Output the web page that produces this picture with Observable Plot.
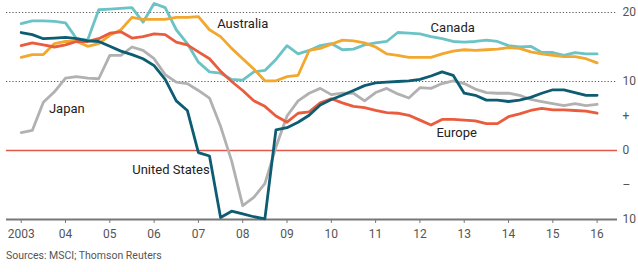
<!DOCTYPE html>
<html>
<head>
<meta charset="utf-8">
<script src="https://cdn.jsdelivr.net/npm/d3@7"></script>
<script src="https://cdn.jsdelivr.net/npm/@observablehq/plot@0.6"></script>
<style>
  html, body { margin: 0; padding: 0; background: #fff; }
  #caption { font-family: Roboto, "Open Sans", sans-serif; font-size: 10.5px; color: #555; margin-left: 6px; height: 22px; line-height: 22px; }
</style>
</head>
<body>
<div id="chart"></div>
<div id="caption">Sources: MSCI; Thomson Reuters</div>
<script>
// Quarterly readings, 2003 Q1 .. 2016 Q1
const startYear = 2003;
const canada = [18.4,18.8,18.8,18.7,18.5,16.2,16.0,20.4,20.5,20.6,20.7,18.6,21.3,20.7,17.5,15.5,12.8,11.4,11.2,10.3,10.2,11.4,11.6,13.2,15.2,14.0,14.5,15.2,15.5,14.6,14.7,15.3,15.6,15.8,17.1,17.0,16.9,16.5,16.2,15.8,15.7,15.8,16.0,15.8,15.2,15.0,15.1,14.2,14.2,13.8,14.2,14.0,14.0];
const australia = [13.5,13.9,13.9,15.5,15.8,15.8,15.1,15.5,16.7,17.5,19.3,19.0,19.0,19.0,19.3,19.3,19.4,17.5,16.5,14.8,13.3,11.8,10.1,10.1,10.7,10.9,14.5,14.8,15.4,16.0,15.9,15.6,15.0,14.0,13.8,13.5,13.5,13.5,14.0,14.4,14.6,14.5,14.6,14.7,14.9,14.8,14.3,14.0,13.8,13.6,13.6,13.3,12.7];
const europe = [15.2,15.6,15.3,15.0,15.3,15.8,15.8,16.2,17.0,17.2,16.3,16.5,16.9,16.8,15.7,15.3,14.3,13.3,11.5,10.0,8.7,7.2,6.4,5.0,4.1,5.4,5.6,6.9,7.5,6.9,6.4,6.2,5.8,5.5,5.4,5.1,4.4,3.7,4.5,4.5,4.4,4.3,3.9,3.9,4.9,5.3,5.8,6.1,5.9,5.9,5.8,5.7,5.4];
const unitedStates = [17.1,16.8,16.2,16.3,16.4,16.2,15.9,15.8,15.1,14.4,13.9,13.3,12.3,10.3,7.2,5.8,-0.3,-0.8,-9.7,-8.8,-9.2,-9.6,-9.9,3.0,3.3,4.1,5.1,6.6,7.4,8.0,8.7,9.4,9.8,9.9,10.0,10.1,10.3,10.8,11.4,10.9,8.3,8.0,7.3,7.3,7.1,7.3,7.7,8.3,8.8,8.8,8.4,8.0,8.0];
const japan = [2.6,2.9,7.0,8.5,10.5,10.7,10.5,10.4,13.8,13.8,15.0,14.5,13.3,11.0,9.9,9.7,8.7,7.6,3.5,-1.5,-8.0,-6.8,-4.8,0.5,5.0,7.2,8.3,9.0,8.1,8.3,8.3,7.2,8.4,9.0,8.2,7.6,9.1,9.0,9.7,10.1,9.7,8.9,8.4,8.3,8.3,8.0,7.4,7.1,6.8,6.5,6.8,6.5,6.7];

const seriesNames = ["Japan", "Canada", "Australia", "Europe", "United States"];
const seriesValues = [japan, canada, australia, europe, unitedStates];
const seriesColors = ["#b1b1b1", "#6cc3c6", "#f2a72e", "#ea5c3e", "#0d5c71"];

const xTicks = [2003,2004,2005,2006,2007,2008,2009,2010,2011,2012,2013,2014,2015,2016];
const xTickLabels = ["2003","04","05","06","07","08","09","10","11","12","13","14","15","16"];
const yTicks = [20, 10, 0, -10];
const yTickLabels = ["20", "10", "0", "10"];

// direct labels (data coordinates, centred)
const labelText = ["Australia", "Canada", "Japan", "Europe", "United States"];
const labelYear = [2008.0, 2012.74, 2004.03, 2012.83, 2006.38];
const labelValue = [18.3, 17.8, 6.1, 2.5, -2.75];

const rows = [];
seriesNames.forEach((name, s) => {
  seriesValues[s].forEach((v, i) => rows.push({series: name, date: startYear + i / 4, value: v}));
});
const labels = labelText.map((t, i) => ({t, x: labelYear[i], y: labelValue[i]}));

const chart = Plot.plot({
  width: 638,
  height: 245,
  marginLeft: 6,
  marginRight: 21,
  marginTop: 12,
  marginBottom: 26,
  style: {fontFamily: "Roboto, 'Open Sans', sans-serif", fontSize: "12px", color: "#555", background: "#fff"},
  x: {domain: [2002.668, 2016.46], axis: null},
  y: {domain: [-10, 20], axis: null},
  color: {domain: seriesNames, range: seriesColors},
  marks: [
    Plot.ruleY([10, 20], {stroke: "#555", strokeWidth: 1, strokeDasharray: "1.2,2"}),
    Plot.ruleY([0], {stroke: "#e3574a", strokeWidth: 1.5}),
    Plot.ruleY([-10], {stroke: "#777", strokeWidth: 2}),
    Plot.axisX({ticks: xTicks, tickFormat: (d, i) => xTickLabels[i], tickSize: 4, tickPadding: 6, stroke: "#777", fill: "#555", fontSize: 12}),
    Plot.axisY({anchor: "right", ticks: yTicks, tickFormat: (d, i) => yTickLabels[i], tickSize: 0, tickPadding: 5, fill: "#555", fontSize: 12}),
    Plot.text(["+", "\u2013"], {y: [5, -5], frameAnchor: "right", dx: 5, textAnchor: "start", fill: "#555", fontSize: 12}),
    Plot.line(rows, {x: "date", y: "value", z: "series", stroke: "series", strokeWidth: 2.8, strokeLinejoin: "round", strokeLinecap: "round"}),
    Plot.text(labels, {x: "x", y: "y", text: "t", textAnchor: "middle", fill: "#222", fontSize: 13})
  ]
});
document.getElementById("chart").appendChild(chart);
</script>
</body>
</html>
